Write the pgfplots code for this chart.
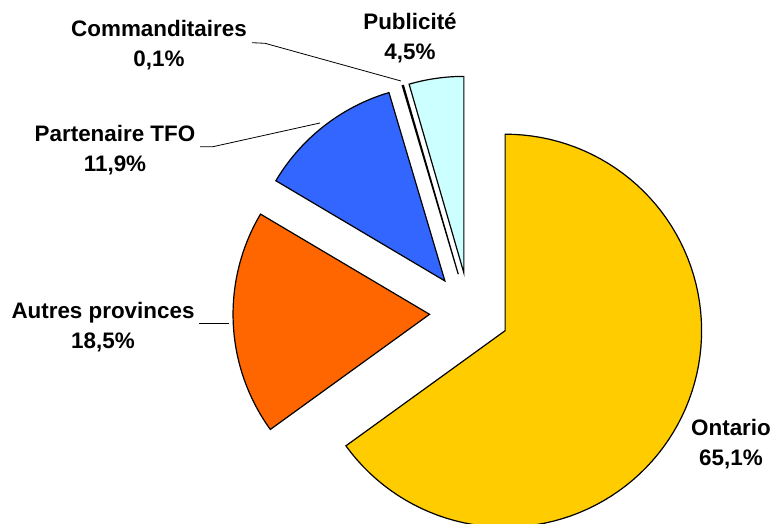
\documentclass[border=0pt]{standalone}
\usepackage{pgfplots}
\pgfplotsset{compat=1.18}
\usepackage{fontspec}
\setmainfont{Liberation Sans}

\definecolor{cOnt}{HTML}{FFCC00}
\definecolor{cAut}{HTML}{FF6600}
\definecolor{cTfo}{HTML}{3366FF}
\definecolor{cCom}{HTML}{FFFFFF}
\definecolor{cPub}{HTML}{CCFFFF}

\tikzset{lbl/.style={font=\fontsize{11.2}{15}\selectfont\bfseries,align=center}}

% one exploded pie slice: #1 share before it, #2 its share (in %), #3 colour
\newcommand\slice[3]{%
  \pgfmathsetmacro\sa{90-(360/100.1)*#1}%
  \pgfmathsetmacro\sb{90-(360/100.1)*(#1+#2)}%
  \pgfmathsetmacro\sm{(\sa+\sb)/2}%
  \pgfmathsetmacro\ex{40*cos(\sm)}%
  \pgfmathsetmacro\ey{40*sin(\sm)}%
  \edef\next{\noexpand\addplot[draw=black,line width=0.6pt,fill=#3,
      domain=\sb:\sa,samples=90]
    ({\ex+196.5*cos(x)},{\ey+196.5*sin(x)}) -- (axis cs:\ex,\ey) -- cycle;}%
  \next}

\begin{document}
\begin{tikzpicture}
\begin{axis}[
  scale only axis,width=386.5pt,height=262pt,
  xmin=-469.5,xmax=303.5,ymin=-211.5,ymax=312.5,
  hide axis,clip=false]
 \slice{0}{65.1}{cOnt}
 \slice{65.1}{18.5}{cAut}
 \slice{83.6}{11.9}{cTfo}
 \slice{95.5}{0.1}{cCom}
 \slice{95.6}{4.5}{cPub}
 % leader lines
 \addplot[black,line width=0.4pt] coordinates {(-217.5,269.8) (-204.5,269.2) (-68.5,231.5)};
 \addplot[black,line width=0.4pt] coordinates {(-269.5,165.8) (-256.5,165.8) (-149.5,189.5)};
 \addplot[black,line width=0.4pt] coordinates {(-270.5,-10.8) (-240.5,-10.8)};
 \node[lbl] at (axis cs:-310.5,267.5) {Commanditaires\\0,1\%};
 \node[lbl] at (axis cs:-59.5,274.5) {Publicité\\4,5\%};
 \node[lbl] at (axis cs:-354.5,162.5) {Partenaire TFO\\11,9\%};
 \node[lbl] at (axis cs:-366.5,-14.5) {Autres provinces\\18,5\%};
 \node[lbl] at (axis cs:261.5,-131.5) {Ontario\\65,1\%};
 \coordinate (bl) at (rel axis cs:0,0);
 \coordinate (tr) at (rel axis cs:1,1);
\end{axis}
\pgfresetboundingbox
\path[use as bounding box] (bl) rectangle (tr);
\end{tikzpicture}
\end{document}
